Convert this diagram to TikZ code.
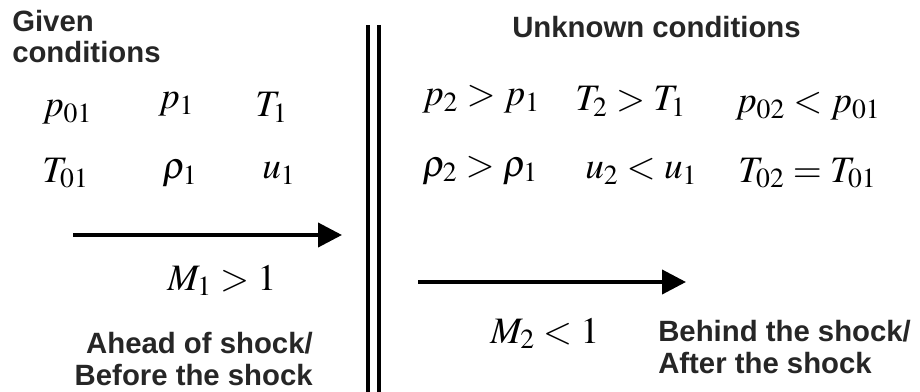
\documentclass[tikz,border=0pt]{standalone}
\usepackage{mathptmx}
\usepackage{fontspec}
\newfontfamily\labelfont{Liberation Sans}
\usetikzlibrary{arrows.meta}
\tikzset{
  etichetta/.style={font=\labelfont\bfseries\fontsize{22}{23.5}\selectfont, text=black!85, inner sep=0pt},
  formula/.style={font=\fontsize{28}{30}\selectfont, inner sep=0pt, anchor=base west},
  flusso/.style={line width=3pt, -{Triangle[length=18pt,width=18pt]}},
  urto/.style={double, line width=2.6pt, double distance=5.6pt}
}
\begin{document}
\begin{tikzpicture}[x=0.75pt,y=-0.75pt]
        \useasboundingbox (0,0) rectangle (920,392);
        %onda d'urto
        \coordinate (shocktop) at (373.5,25);
        \coordinate (shockbot) at (373.5,392);
        \draw[urto] (shocktop) -- (shockbot);

        %condizioni note (monte)
        \node[etichetta, align=left, anchor=base west] (given) at (12,63) {Given\\conditions};
        \node[formula] (p01) at (42,117) {$p_{01}$};
        \node[formula] (p1) at (158,109) {$p_1$};
        \node[formula] (T1) at (255,117) {$T_1$};
        \node[formula] (T01) at (42,182) {$T_{01}$};
        \node[formula] (rho1) at (162,179) {$\rho_1$};
        \node[formula] (u1) at (262,179) {$u_1$};

        %flusso supersonico
        \coordinate (inflow) at (73,235);
        \coordinate (inflowtip) at (342,235);
        \draw[flusso] (inflow) -- (inflowtip);
        \node[formula] (M1) at (167,290) {$M_1 > 1$};
        \node[etichetta, align=right, anchor=base east] (ahead) at (313,385) {Ahead of shock/\\Before the shock};

        %condizioni incognite (valle)
        \node[etichetta, anchor=base west] (unknown) at (512,38) {Unknown conditions};
        \node[formula] (pp) at (422,106) {$p_2 > p_1$};
        \node[formula] (TT) at (575,111) {$T_2 > T_1$};
        \node[formula] (pp0) at (735,113) {$p_{02} < p_{01}$};
        \node[formula] (rr) at (422,176) {$\rho_2 > \rho_1$};
        \node[formula] (uu) at (585,179) {$u_2 < u_1$};
        \node[formula] (TT0) at (738,182) {$T_{02} = T_{01}$};

        %flusso subsonico
        \coordinate (outflow) at (418,282);
        \coordinate (outflowtip) at (686,282);
        \draw[flusso] (outflow) -- (outflowtip);
        \node[formula] (M2) at (490,343) {$M_2 < 1$};
        \node[etichetta, align=left, anchor=base west] (behind) at (658,373) {Behind the shock/\\After the shock};
\end{tikzpicture}
\end{document}
